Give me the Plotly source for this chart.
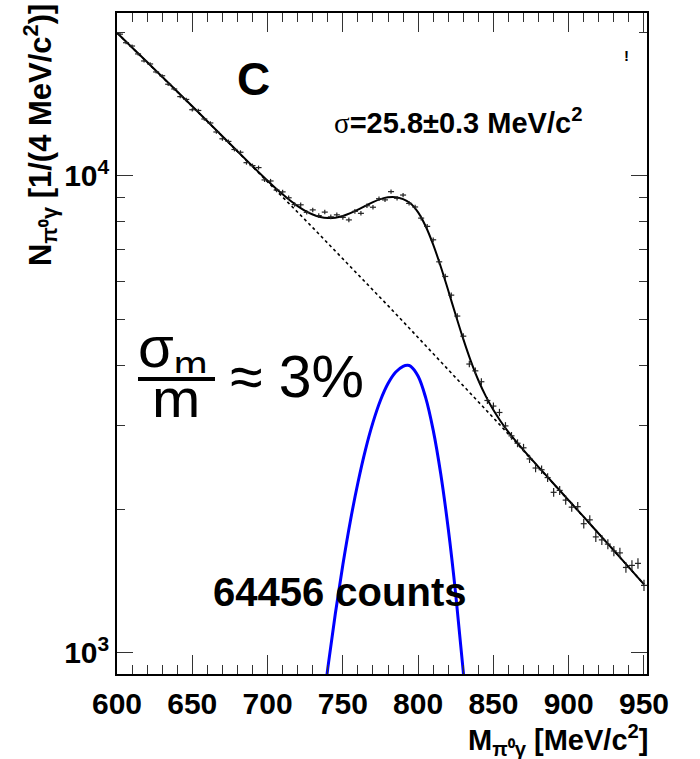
import numpy as np
import plotly.graph_objects as go

# ---------------- data ----------------
bin_centers = [602, 606, 610, 614, 618, 622, 626, 630, 634, 638,
               642, 646, 650, 654, 658, 662, 666, 670, 674, 678,
               682, 686, 690, 694, 698, 702, 706, 710, 714, 718,
               722, 726, 730, 734, 738, 742, 746, 750, 754, 758,
               762, 766, 770, 774, 778, 782, 786, 790, 794, 798,
               802, 806, 810, 814, 818, 822, 826, 830, 834, 838,
               842, 846, 850, 854, 858, 862, 866, 870, 874, 878,
               882, 886, 890, 894, 898, 902, 906, 910, 914, 918,
               922, 926, 930, 934, 938, 942, 946, 950]
counts = [19800, 19000, 18700, 18000, 17400, 17150, 16500, 16200, 15550, 15200,
          14650, 14450, 13750, 13700, 13150, 12900, 12350, 11950, 11800, 11350,
          11200, 10650, 10500, 10400, 9800, 9750, 9330, 9250, 8990, 8700,
          8690, 8380, 8480, 8250, 8390, 8200, 8280, 8180, 8080, 8420,
          8340, 8650, 8590, 8950, 8900, 9260, 8970, 9110, 8750, 8600,
          8150, 7830, 7340, 6600, 6150, 5620, 5080, 4610, 4030, 3900,
          3700, 3380, 3290, 3190, 2990, 2850, 2750, 2690, 2550, 2440,
          2420, 2330, 2170, 2190, 2090, 2020, 2025, 1865, 1900, 1750,
          1725, 1690, 1635, 1620, 1510, 1525, 1540, 1385]

fit_mass = [600, 610, 620, 630, 640, 650, 660, 670, 680, 690,
            700, 705, 710, 715, 720, 725, 730, 735, 740, 745,
            750, 755, 760, 765, 770, 775, 780, 785, 790, 795,
            800, 805, 810, 815, 820, 825, 830, 835, 840, 845,
            850, 855, 860, 870, 880, 890, 900, 910, 920, 930, 940, 950]
fit_vals = [19930, 18575, 17305, 16125, 15015, 13980, 13005, 12095, 11250, 10476,
            9764, 9440, 9141, 8871, 8636, 8441, 8292, 8196, 8154, 8168,
            8235, 8346, 8490, 8650, 8805, 8933, 9009, 9014, 8933, 8749,
            8380, 7836, 7172, 6454, 5746, 5100, 4545, 4088, 3727, 3447,
            3227, 3051, 2903, 2660, 2451, 2262, 2088, 1927, 1777, 1639, 1510, 1392]

bg_mass = [600, 610, 620, 630, 640, 650, 660, 670, 680, 690,
           700, 710, 720, 730, 740, 750, 760, 770, 780, 790,
           800, 810, 820, 830, 840, 850, 860, 870, 880, 890,
           900, 910, 920, 930, 940, 950]
bg_vals = [19930, 18575, 17305, 16125, 15015, 13980, 13005, 12095, 11250, 10460,
           9720, 9030, 8385, 7785, 7225, 6705, 6217, 5764, 5341, 4947,
           4582, 4242, 3926, 3634, 3360, 3108, 2872, 2653, 2451, 2262,
           2088, 1927, 1777, 1639, 1510, 1392]

sig_mass = [728, 730, 735, 740, 745, 750, 755, 760, 765, 770, 775, 780, 785,
            790, 793, 795, 800, 805, 810, 815, 820, 825, 830, 835, 838]
sig_vals = [450, 507, 696, 929, 1208, 1530, 1890, 2273, 2664, 3041, 3384, 3668, 3874,
            3986, 4005, 3988, 3798, 3427, 2930, 2373, 1820, 1323, 911, 594, 440]

x_ticks = [600, 650, 700, 750, 800, 850, 900, 950]
y_ticks = [1000, 10000]
y_tick_text = ["10<sup>3</sup>", "10<sup>4</sup>"]
y_minor = [2000, 3000, 4000, 5000, 6000, 7000, 8000, 9000, 20000]

# ---------------- geometry ----------------
W, H = 700, 759
L, R, T, B = 117, 647, 11, 674
FONT = "Liberation Sans, Arial, Helvetica, sans-serif"


def px(x):
    return (x - L) / (R - L)


def py(y):
    return (B - y) / (B - T)


fig = go.Figure()

fig.add_trace(go.Scatter(
    x=bg_mass, y=bg_vals, mode="lines",
    line=dict(color="black", width=1.6, dash="3px,3px"),
    hoverinfo="skip", showlegend=False))

fig.add_trace(go.Scatter(
    x=sig_mass, y=sig_vals, mode="lines", line_shape="spline",
    line=dict(color="#0000ff", width=3),
    hoverinfo="skip", showlegend=False))

fig.add_trace(go.Scatter(
    x=fit_mass, y=fit_vals, mode="lines", line_shape="spline",
    line=dict(color="black", width=2),
    hoverinfo="skip", showlegend=False))

fig.add_trace(go.Scatter(
    x=bin_centers, y=counts, mode="markers",
    marker=dict(size=2, color="rgba(0,0,0,0)"),
    error_x=dict(type="constant", value=2, width=0, thickness=1.2, color="#222"),
    error_y=dict(type="data", array=np.sqrt(np.array(counts, dtype=float)),
                 width=0, thickness=1.2, color="#222"),
    showlegend=False))

ann = []


def add_text(text, x, y, size, bold=True, xanchor="center", yanchor="middle",
             angle=0, height=None):
    d = dict(
        text=text, x=px(x), y=py(y), xref="paper", yref="paper",
        xanchor=xanchor, yanchor=yanchor, showarrow=False, textangle=angle,
        font=dict(family=FONT, size=size, color="black",
                  weight="bold" if bold else "normal"))
    if height is not None:
        d["height"] = height
    ann.append(d)


add_text("C", 253, 77, 46)
add_text("<span style=\"font-family:'Liberation Serif';font-weight:normal\">σ</span>=25.8±0.3 MeV/c<sup>2</sup>",
         458, 119, 29)
add_text("σ<sub>m</sub>", 136, 350, 58, bold=False, xanchor="left", height=44)
add_text("m", 176, 397, 58, bold=False, height=38)
add_text("≈ 3%", 228, 376, 59, bold=False, xanchor="left")
add_text("64456 counts", 339, 592, 40)
add_text("!", 626, 54, 15)
add_text("M<sub>π⁰γ</sub> [MeV/c<sup>2</sup>]", 650, 740, 29, xanchor="right")
add_text("N<sub>π⁰γ</sub> [1/(4 MeV/c<sup>2</sup>)]", 40, 0, 31, yanchor="top", angle=-90)

fig.update_layout(
    width=W, height=H,
    margin=dict(l=L, r=W - R, t=T, b=H - B, pad=0),
    paper_bgcolor="white", plot_bgcolor="white",
    annotations=ann,
    shapes=[dict(type="line", xref="paper", yref="paper",
                 x0=px(138), x1=px(215), y0=py(378), y1=py(378),
                 line=dict(color="black", width=4))],
    showlegend=False,
)

fig.update_xaxes(
    range=[600, 952], tickvals=x_ticks, ticktext=[str(v) for v in x_ticks],
    ticks="inside", ticklen=19, tickwidth=1.2, tickcolor="#333",
    minor=dict(dtick=10, tick0=600, ticks="inside", ticklen=9, tickwidth=1.2, tickcolor="#333"),
    showline=True, linecolor="black", linewidth=1.5, mirror="ticks",
    showgrid=False, zeroline=False,
    tickfont=dict(family=FONT, size=30, color="black", weight="bold"),
    ticklabelstandoff=2,
)
fig.update_yaxes(
    type="log", range=[np.log10(903), np.log10(21930)],
    tickvals=y_ticks, ticktext=y_tick_text,
    ticks="inside", ticklen=16, tickwidth=1.2, tickcolor="#333",
    minor=dict(tickvals=y_minor, ticks="inside", ticklen=8, tickwidth=1.2, tickcolor="#333"),
    showline=True, linecolor="black", linewidth=1.5, mirror="ticks",
    showgrid=False, zeroline=False,
    tickfont=dict(family=FONT, size=30, color="black", weight="bold"),
    ticklabelstandoff=0,
)

fig.write_html("out.html")
